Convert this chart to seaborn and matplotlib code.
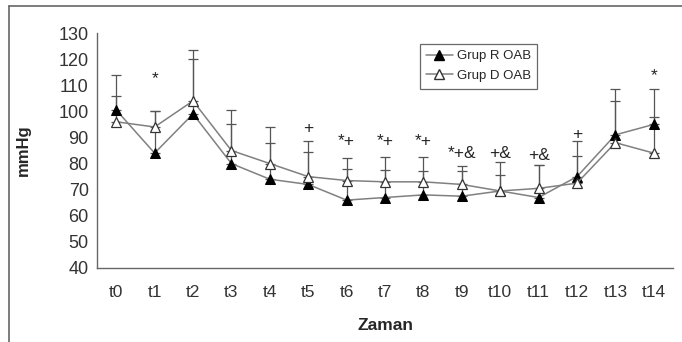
import matplotlib
matplotlib.use("Agg")
import matplotlib.pyplot as plt
import seaborn as sns
import pandas as pd
import numpy as np
from matplotlib.lines import Line2D

categories = ["t0", "t1", "t2", "t3", "t4", "t5", "t6", "t7", "t8", "t9", "t10", "t11", "t12", "t13", "t14"]
grup_r = [100.5, 84, 99, 80, 74, 72, 66, 67, 68, 67.5, 69.5, 67, 75, 91, 95]
grup_d = [96, 94, 104, 85, 80, 75, 73.5, 73, 73, 72, 69.5, 70.5, 72.5, 88, 84]
err_r = [13.5, 16, 24.5, 20.5, 20, 16.5, 16, 15.5, 14.5, 11.5, 11, 12.5, 13.5, 17.5, 13.5]
err_d = [10, 6, 16, 10, 8, 9.5, 4.5, 4.5, 4, 5, 6, 9, 10.5, 16, 14]
annot_labels = ["", "*", "", "", "", "+", "*+", "*+", "*+", "*+&", "+&", "+&", "+", "", "*"]
annot_y = [0, 112.5, 0, 0, 0, 93.5, 88.5, 88.5, 88.5, 84, 84, 83, 91, 0, 113.5]

sns.set_style("white")
plt.rcParams['font.family'] = ['Liberation Sans', 'DejaVu Sans']

fig = plt.figure(figsize=(6.82, 3.42), dpi=100)
ax = fig.add_axes([97/682, 1-268/342, 576/682, 235/342])

x = np.arange(len(categories))
df = pd.DataFrame({"x": np.concatenate([x, x]),
                   "val": grup_r + grup_d,
                   "grp": ["Grup R OAB"]*len(x) + ["Grup D OAB"]*len(x)})

line_col = "#808080"
ax.errorbar(x, grup_r, yerr=[np.zeros(len(x)), err_r], fmt="none", ecolor="#555555",
            elinewidth=0.9, capsize=3.5, capthick=0.9, zorder=1)
ax.errorbar(x, grup_d, yerr=[np.zeros(len(x)), err_d], fmt="none", ecolor="#555555",
            elinewidth=0.9, capsize=3.5, capthick=0.9, zorder=1)

sns.lineplot(data=df[df.grp == "Grup R OAB"], x="x", y="val", ax=ax, color=line_col,
             linewidth=1.1, marker="^", markersize=7.5, markerfacecolor="black",
             markeredgecolor="black", legend=False, zorder=3)
sns.lineplot(data=df[df.grp == "Grup D OAB"], x="x", y="val", ax=ax, color=line_col,
             linewidth=1.1, marker="^", markersize=7.5, markerfacecolor="white",
             markeredgecolor="#333333", markeredgewidth=0.9, legend=False, zorder=3)

for xi, lab, yv in zip(x, annot_labels, annot_y):
    if lab:
        ax.text(xi, yv, lab, ha="center", va="center", fontsize=12.5, color="#222222")

ax.set_xlim(-0.5, len(categories) - 0.5)
ax.set_ylim(40, 130)
ax.set_yticks(range(40, 131, 10))
ax.set_xticks(x)
ax.set_xticklabels(categories)
ax.set_xticks(np.arange(-0.5, len(categories), 1), minor=True)
ax.tick_params(axis="x", which="major", length=0, pad=12, labelsize=12.5, colors="#333333")
ax.tick_params(axis="x", which="minor", length=4, width=0.9, color="#666666", direction="out")
ax.tick_params(axis="y", which="major", length=4, width=0.9, color="#666666", direction="out",
               labelsize=13, pad=2, colors="#333333")
ax.tick_params(axis="y", colors="#666666", labelcolor="#333333")
for s in ["top", "right"]:
    ax.spines[s].set_visible(False)
for s in ["left", "bottom"]:
    ax.spines[s].set_color("#666666")
    ax.spines[s].set_linewidth(1.0)

ax.set_xlabel("Zaman", fontsize=12.5, fontweight="bold", labelpad=13)
ax.set_ylabel("mmHg", fontsize=12, fontweight="bold", labelpad=20)

handles = [Line2D([0], [0], color=line_col, marker="^", markersize=6.5, markerfacecolor="black",
                  markeredgecolor="black", linewidth=1.1),
           Line2D([0], [0], color=line_col, marker="^", markersize=6.5, markerfacecolor="white",
                  markeredgecolor="#333333", linewidth=1.1)]
leg = fig.legend(handles, ["Grup R OAB", "Grup D OAB"], loc="upper left",
                 bbox_to_anchor=(413/682, 1-37/342), fontsize=9.5, frameon=True,
                 fancybox=False, edgecolor="#444444", handlelength=2.0, handletextpad=0.3,
                 borderpad=0.5, labelspacing=0.55)
leg.get_frame().set_linewidth(0.9)

fig.add_artist(Line2D([9/682, 9/682], [0, 1-6/342], color="#666666", linewidth=1.2,
                      transform=fig.transFigure))
fig.add_artist(Line2D([9/682, 1], [1-6/342, 1-6/342], color="#666666", linewidth=1.2,
                      transform=fig.transFigure))

fig.savefig("out.png", dpi=100)
